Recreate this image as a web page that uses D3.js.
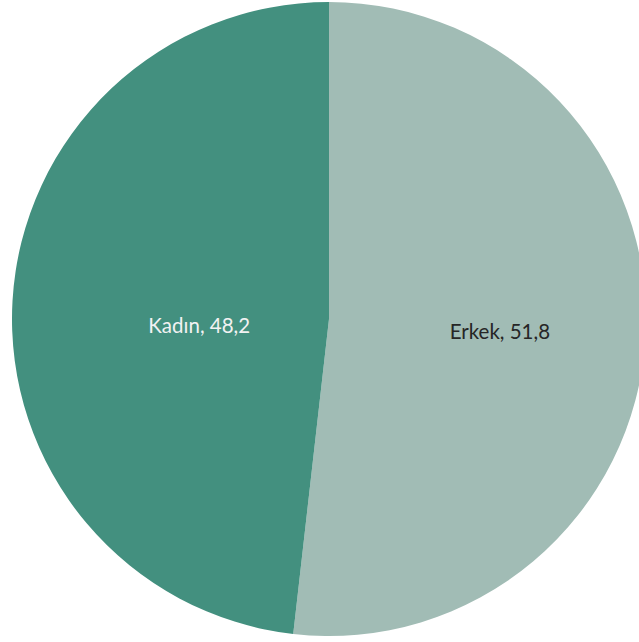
<!DOCTYPE html>
<html>
<head>
<meta charset="utf-8">
<script src="https://cdn.jsdelivr.net/npm/d3@7"></script>
<style>
  body { margin: 0; background: #fff; }
  text { font-family: Lato, "Noto Sans", sans-serif; font-size: 20.5px; }
</style>
</head>
<body>
<div class="chart"></div>
<script>
// Data
var categories = ["Erkek", "Kadın"];
var values = [51.8, 48.2];
var colors = ["#A1BCB5", "#43907F"];
var labelColors = ["#262626", "#F2F2F2"];

var svgWidth = 639;
var svgHeight = 642;
var cx = 329, cy = 319, radius = 317;

var svg = d3.select(".chart")
    .append("svg")
    .attr("width", svgWidth)
    .attr("height", svgHeight);

var chart = svg.append("g")
    .attr("transform", "translate(" + cx + "," + cy + ")");

var pie = d3.pie().sort(null).value(function(d) { return d; });
var arcs = pie(values);

var arc = d3.arc().innerRadius(0).outerRadius(radius);

chart.selectAll(".slice")
    .data(arcs)
    .enter()
    .append("path")
    .attr("class", "slice")
    .attr("d", arc)
    .style("fill", function(d, i) { return colors[i]; });

// label placement along each slice's bisector
var labelRadius = [0.54, 0.41];
var labelDy = [10, 21];

chart.selectAll(".lbl")
    .data(arcs)
    .enter()
    .append("text")
    .attr("class", "lbl")
    .attr("text-anchor", "middle")
    .attr("x", function(d, i) {
        var a = (d.startAngle + d.endAngle) / 2;
        return Math.sin(a) * radius * labelRadius[i];
    })
    .attr("y", function(d, i) {
        var a = (d.startAngle + d.endAngle) / 2;
        return -Math.cos(a) * radius * labelRadius[i] + labelDy[i];
    })
    .style("fill", function(d, i) { return labelColors[i]; })
    .text(function(d, i) { return categories[i] + ", " + String(values[i]).replace(".", ","); });
</script>
</body>
</html>
